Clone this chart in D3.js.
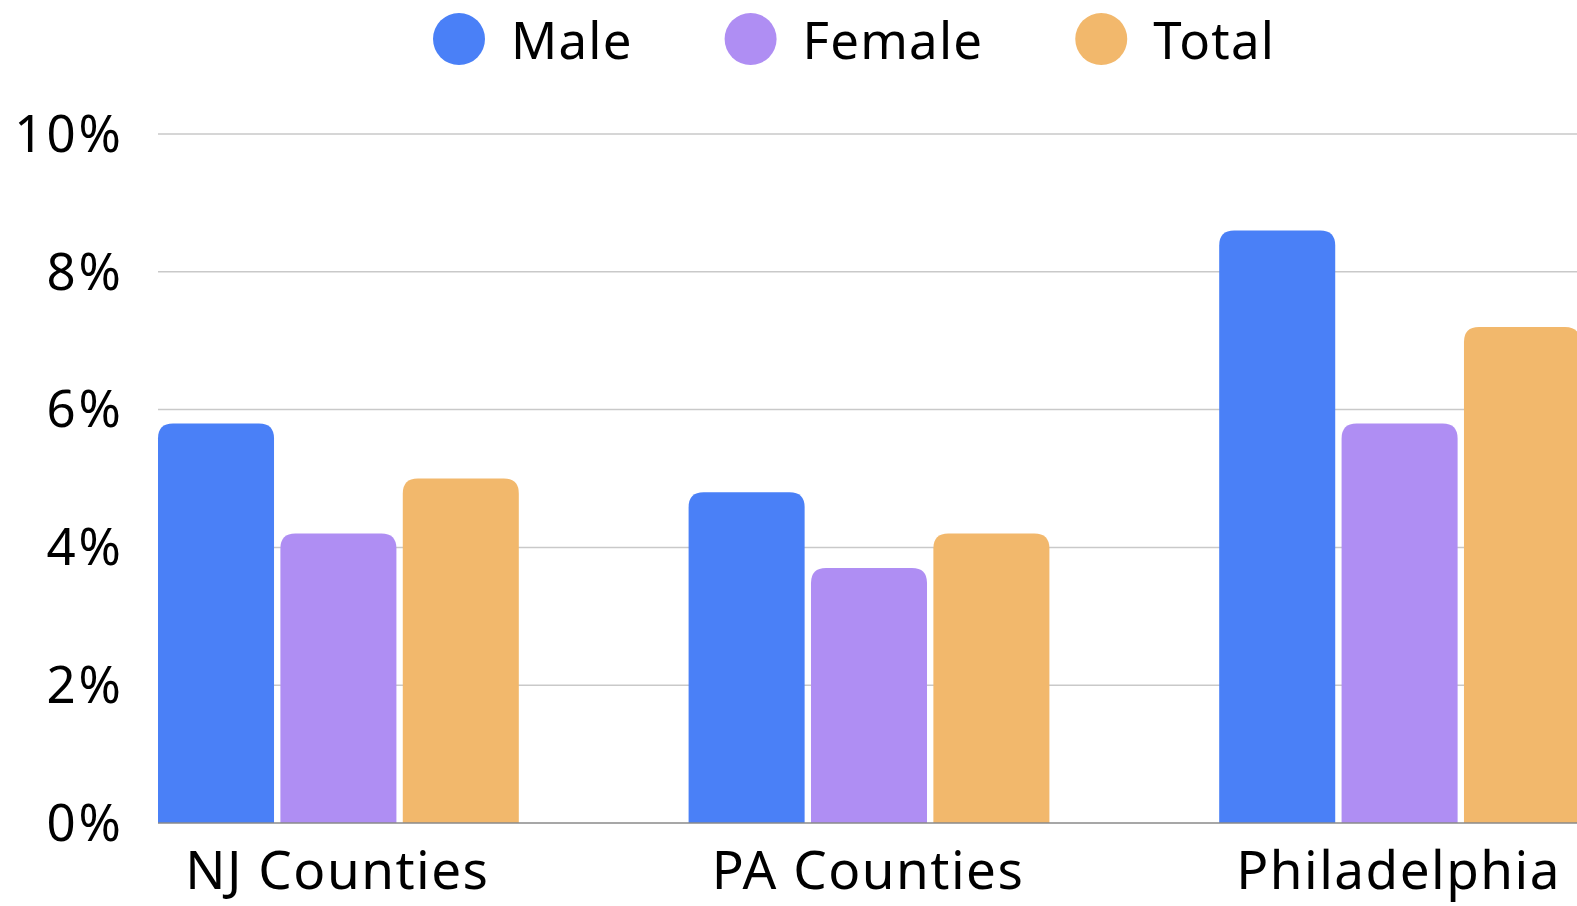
<!DOCTYPE html>
<meta charset="utf-8">
<script src="https://d3js.org/d3.v7.min.js"></script>
<style>
  body { margin: 0; background: #fff; }
  text { font-family: "Noto Sans", sans-serif; fill: #000; }
</style>
<svg id="chart" width="1577" height="906"></svg>
<script>
// data
var groups = ["NJ Counties", "PA Counties", "Philadelphia"];
var series = ["Male", "Female", "Total"];
var male = [5.8, 4.8, 8.6];
var female = [4.2, 3.7, 5.8];
var total = [5.0, 4.2, 7.2];
var yTicks = [0, 2, 4, 6, 8, 10];

var values = {Male: male, Female: female, Total: total};
var colors = ["#4a80f7", "#af8ef3", "#f2b86c"];

var svg = d3.select("#chart");

// scales
var x0 = d3.scaleBand()
  .domain(groups)
  .range([158, 1580])
  .paddingInner(0.32)
  .paddingOuter(0)
  .align(0);

var x1 = d3.scaleBand()
  .domain(series)
  .range([0, x0.bandwidth()])
  .paddingInner(0.052);

var y = d3.scaleLinear()
  .domain([0, 10])
  .range([823, 134]);

var color = d3.scaleOrdinal().domain(series).range(colors);

// gridlines
svg.append("g")
  .selectAll("line")
  .data(yTicks.filter(function(d) { return d > 0; }))
  .enter().append("line")
    .attr("x1", 158).attr("x2", 1577)
    .attr("y1", function(d) { return y(d); })
    .attr("y2", function(d) { return y(d); })
    .attr("stroke", "#c9c9c9")
    .attr("stroke-width", 1.5);

// y labels
svg.append("g")
  .selectAll("text")
  .data(yTicks)
  .enter().append("text")
    .attr("x", 124)
    .attr("y", function(d) { return y(d); })
    .attr("dy", "0.35em")
    .attr("text-anchor", "end")
    .style("font-size", "51px")
    .style("letter-spacing", "3px")
    .text(function(d) { return d + "%"; });

// rounded-top bar path
function barPath(x, yTop, w, h, r) {
  r = Math.min(r, w / 2, h);
  return "M" + x + "," + (yTop + h) +
    "V" + (yTop + r) +
    "Q" + x + "," + yTop + " " + (x + r) + "," + yTop +
    "H" + (x + w - r) +
    "Q" + (x + w) + "," + yTop + " " + (x + w) + "," + (yTop + r) +
    "V" + (yTop + h) + "Z";
}

// bars
svg.append("g")
  .selectAll("g")
  .data(groups)
  .enter().append("g")
    .attr("transform", function(d) { return "translate(" + x0(d) + ",0)"; })
  .selectAll("path")
  .data(function(g, i) { return series.map(function(s) { return {key: s, value: values[s][i]}; }); })
  .enter().append("path")
    .attr("d", function(d) {
      return barPath(x1(d.key), y(d.value), x1.bandwidth(), y(0) - y(d.value), 15);
    })
    .attr("fill", function(d) { return color(d.key); });

// baseline
svg.append("line")
  .attr("x1", 158).attr("x2", 1577)
  .attr("y1", y(0)).attr("y2", y(0))
  .attr("stroke", "#8a8a8a")
  .attr("stroke-width", 1.5);

// x labels
svg.append("g")
  .selectAll("text")
  .data(groups)
  .enter().append("text")
    .attr("x", function(d) { return x0(d) + x0.bandwidth() / 2 - 1; })
    .attr("y", 889)
    .attr("text-anchor", "middle")
    .style("font-size", "53px")
    .style("letter-spacing", "1.5px")
    .text(function(d) { return d; });

// legend
var legend = svg.append("g");
var lx = 433;
series.forEach(function(s) {
  legend.append("circle")
    .attr("cx", lx + 26)
    .attr("cy", 39)
    .attr("r", 26)
    .attr("fill", color(s));
  var t = legend.append("text")
    .attr("x", lx + 78)
    .attr("y", 59)
    .style("font-size", "51px")
    .style("letter-spacing", "1.2px")
    .text(s);
  lx += 78 + t.node().getComputedTextLength() + 92;
});
</script>
